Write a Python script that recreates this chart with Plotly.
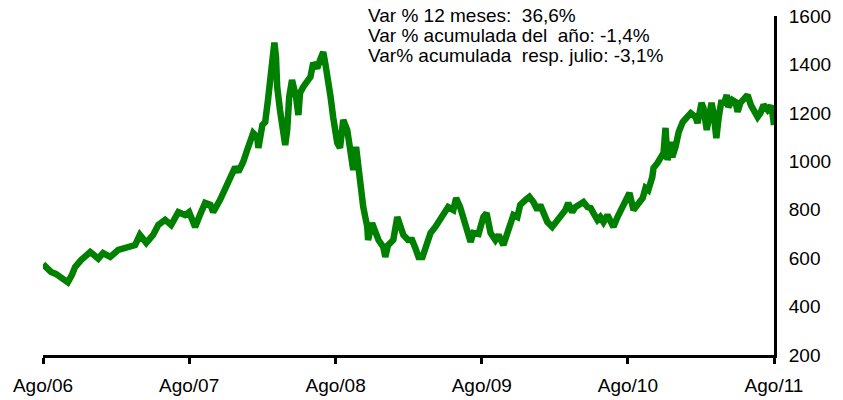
import datetime as dt
import plotly.graph_objects as go

# Time (days after 1 Aug 2006) and index values
day_offsets = [
    0, 10, 20, 32, 45, 55, 62, 72, 80, 95, 108, 118, 128, 138, 150, 168, 188, 208, 230, 242,
    258, 275, 288, 305, 320, 338, 355, 365, 380, 392, 405, 418, 425, 442, 460, 468, 480, 488,
    500, 510, 518, 525, 535, 538, 548, 555, 562, 568, 572, 578, 582, 585, 592, 600, 605, 610,
    615, 622, 628, 632, 638, 642, 650, 660, 668, 675, 685, 692, 700, 705, 710, 718, 725, 735,
    742, 750, 760, 768, 775, 782, 788, 795, 800, 810, 812, 822, 830, 838, 850, 855, 862, 875,
    885, 892, 900, 912, 922, 930, 938, 948, 955, 968, 980, 992, 1005, 1012, 1025, 1032, 1042,
    1050, 1060, 1068, 1075, 1088, 1100, 1108, 1118, 1130, 1138, 1150, 1160, 1168, 1175, 1185,
    1192, 1205, 1215, 1225, 1235, 1242, 1250, 1260, 1272, 1280, 1288, 1298, 1305, 1312, 1322,
    1330, 1342, 1350, 1360, 1368, 1375, 1385, 1392, 1400, 1410, 1418, 1425, 1435, 1442, 1455,
    1465, 1475, 1488, 1498, 1505, 1512, 1522, 1525, 1535, 1542, 1550, 1555, 1560, 1568, 1572,
    1580, 1588, 1598, 1610, 1618, 1630, 1635, 1645, 1650, 1658, 1662, 1670, 1675, 1682, 1688,
    1695, 1700, 1708, 1712, 1722, 1730, 1735, 1742, 1750, 1760, 1768, 1775, 1785, 1792, 1800,
    1810, 1818, 1822, 1826,
]
values = [
    575, 560, 543, 535, 522, 512, 500, 530, 563, 592, 610, 625, 612, 598, 621, 605, 634, 642, 654, 696,
    663, 696, 737, 758, 737, 790, 778, 790, 729, 778, 828, 820, 790, 840, 910, 943, 976, 956,
    997, 1047, 1076, 1117, 1100, 1055, 1150, 1162, 1253, 1336, 1447, 1490, 1431, 1307, 1212, 1100, 1067, 1129,
    1266, 1336, 1303, 1266, 1191, 1282, 1307, 1336, 1348, 1406, 1385, 1418, 1451, 1406, 1365, 1270, 1180, 1076,
    1055, 1171, 1129, 1018, 964, 1059, 964, 881, 811, 729, 675, 745, 704, 675, 646, 605, 654, 675,
    770, 729, 696, 675, 675, 642, 605, 605, 642, 704, 729, 758, 799, 811, 799, 848, 811,
    770, 729, 667, 704, 700, 770, 786, 704, 675, 696, 654, 704, 758, 778, 770,
    820, 840, 853, 832, 799, 820, 786, 749, 729, 745, 758, 778, 799, 828, 790,
    811, 828, 832, 811, 807, 786, 758, 770, 749, 778, 749, 729, 770, 790, 832,
    869, 799, 828, 848, 890, 881, 935, 972, 993, 1014, 1034, 1138, 1005, 1080, 1018,
    1059, 1121, 1162, 1183, 1199, 1183, 1158, 1241, 1220, 1129, 1183, 1241, 1199, 1096, 1183,
    1253, 1233, 1274, 1224, 1253, 1245, 1204, 1241, 1261, 1274, 1233, 1212, 1183, 1199, 1233,
    1212, 1230, 1200, 1150,
]
tick_dates = ["2006-08-01", "2007-08-01", "2008-08-01", "2009-08-01", "2010-08-01", "2011-08-01"]
tick_labels = ["Ago/06", "Ago/07", "Ago/08", "Ago/09", "Ago/10", "Ago/11"]
y_ticks = [200, 400, 600, 800, 1000, 1200, 1400, 1600]
notes = [
    "Var % 12 meses:  36,6%",
    "Var % acumulada del  año: -1,4%",
    "Var% acumulada  resp. julio: -3,1%",
]

start = dt.date(2006, 8, 1)
dates = [start + dt.timedelta(days=d) for d in day_offsets]

fig = go.Figure()
fig.add_trace(go.Scatter(
    x=dates, y=values, mode="lines",
    line=dict(color="#008000", width=6.5),
    hoverinfo="skip", showlegend=False,
))

font = dict(family="Liberation Sans, Arial, sans-serif", size=19, color="#000000")
note_font = dict(family="Liberation Sans, Arial, sans-serif", size=19, color="#000000")

# the page body adds an 8px offset, so the figure is 8px smaller on each side
fig.update_layout(
    width=835, height=392,
    margin=dict(l=35, r=69, t=8, b=45, autoexpand=False),
    paper_bgcolor="white", plot_bgcolor="white",
    font=font,
    xaxis=dict(
        type="date",
        range=[tick_dates[0], tick_dates[-1]],
        tickvals=tick_dates, ticktext=tick_labels,
        showgrid=False, zeroline=False, automargin=False,
        showline=True, linecolor="black", linewidth=3,
        ticks="outside", ticklen=6, tickwidth=3, tickcolor="black",
        ticklabelstandoff=5, ticklabeloverflow="allow",
        tickfont=font,
    ),
    yaxis=dict(
        side="right",
        range=[200, 1600],
        tickvals=y_ticks,
        showgrid=False, zeroline=False, automargin=False,
        showline=True, linecolor="black", linewidth=3,
        ticks="", ticklabelstandoff=8, ticklabeloverflow="allow",
        tickfont=font,
    ),
)

note_y = [1.001, 0.942, 0.883]
for text, yy in zip(notes, note_y):
    fig.add_annotation(
        text=text, xref="paper", yref="paper", x=0.442, y=yy,
        xanchor="left", yanchor="middle", showarrow=False,
        font=note_font,
    )

fig.write_html("out.html")
